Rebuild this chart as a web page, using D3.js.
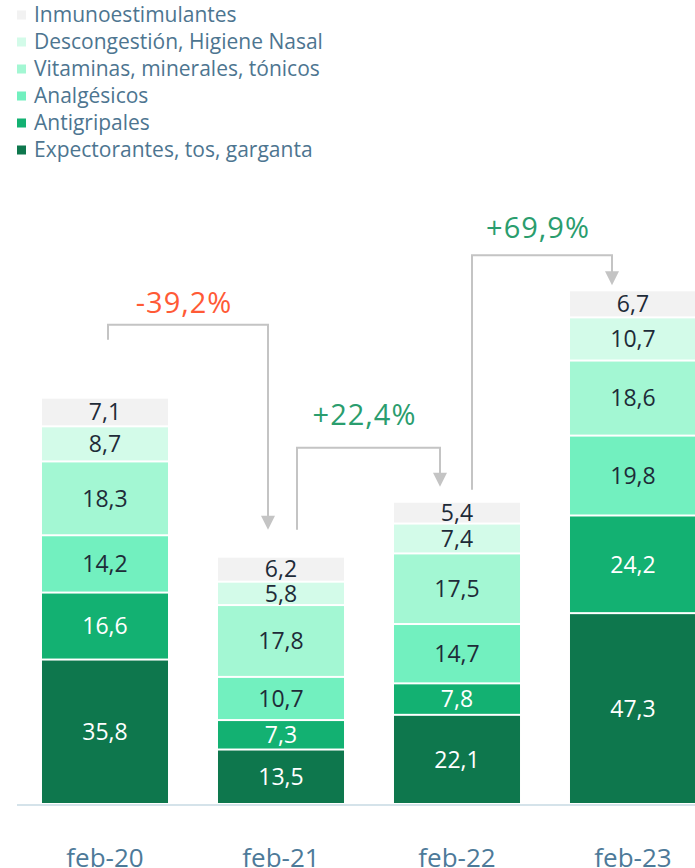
<!DOCTYPE html>
<html>
<head>
<meta charset="utf-8">
<script src="https://cdn.jsdelivr.net/npm/d3@7"></script>
<style>
  body { margin: 0; background: #fff; font-family: "Open Sans", sans-serif; }
</style>
</head>
<body>
<div id="chart"></div>
<script>
const periods = ['feb-20', 'feb-21', 'feb-22', 'feb-23'];
// stack order: bottom first
const categories = ['Expectorantes, tos, garganta', 'Antigripales', 'Analgésicos',
  'Vitaminas, minerales, tónicos', 'Descongestión, Higiene Nasal', 'Inmunoestimulantes'];
const colors = ['#0e774d', '#13b172', '#72f0bf', '#a3f7d3', '#d3fbe9', '#f2f2f2'];
const textColors = ['#ffffff', '#ffffff', '#1e2b38', '#1e2b38', '#1e2b38', '#1e2b38'];

const expectorantes = [35.8, 13.5, 22.1, 47.3];
const antigripales = [16.6, 7.3, 7.8, 24.2];
const analgesicos = [14.2, 10.7, 14.7, 19.8];
const vitaminas = [18.3, 17.8, 17.5, 18.6];
const descongestion = [8.7, 5.8, 7.4, 10.7];
const inmuno = [7.1, 6.2, 5.4, 6.7];

const changes = ['-39,2%', '+22,4%', '+69,9%'];
const changeColors = ['#ff5a36', '#2a9d6e', '#2a9d6e'];

const series = [expectorantes, antigripales, analgesicos, vitaminas, descongestion, inmuno];
const rows = periods.map((p, i) => {
  const r = { period: p };
  categories.forEach((c, k) => { r[c] = series[k][i]; });
  return r;
});

const width = 695;
const height = 868;
const baseY = 804;

const svg = d3.select('#chart').append('svg')
  .attr('width', width)
  .attr('height', height);

const x = d3.scaleBand()
  .domain(periods)
  .range([17, 721])
  .paddingInner(0.284)
  .paddingOuter(0.142);

const y = d3.scaleLinear()
  .domain([0, 130])
  .range([baseY, baseY - 130 * 4.035]);

const stacked = d3.stack().keys(categories)(rows);

// legend
const legend = svg.append('g');
categories.slice().reverse().forEach((c, i) => {
  const k = categories.length - 1 - i;
  const g = legend.append('g').attr('transform', `translate(17,${15 + i * 27})`);
  g.append('rect')
    .attr('x', 0).attr('y', -4.5)
    .attr('width', 9).attr('height', 9)
    .attr('fill', colors[k]);
  g.append('text')
    .attr('x', 17)
    .attr('dy', '0.35em')
    .attr('font-size', 21)
    .attr('fill', '#4d7590')
    .text(c);
});

// bars
const layers = svg.append('g').selectAll('g')
  .data(stacked)
  .join('g')
  .attr('fill', (d, i) => colors[i]);

layers.selectAll('rect')
  .data((d) => d)
  .join('rect')
  .attr('x', (d) => x(d.data.period))
  .attr('width', x.bandwidth())
  .attr('y', (d) => y(d[1]) + 1)
  .attr('height', (d) => Math.max(0, y(d[0]) - y(d[1]) - 2));

layers.each(function (layer, k) {
  d3.select(this).selectAll('text')
    .data(layer)
    .join('text')
    .attr('x', (d) => x(d.data.period) + x.bandwidth() / 2)
    .attr('y', (d) => (y(d[0]) + y(d[1])) / 2)
    .attr('dy', '0.36em')
    .attr('text-anchor', 'middle')
    .attr('font-size', 23)
    .attr('fill', textColors[k])
    .text((d) => d3.format('.1f')(d[1] - d[0]).replace('.', ','));
});

// axis
svg.append('line')
  .attr('x1', 17).attr('x2', width)
  .attr('y1', baseY + 1).attr('y2', baseY + 1)
  .attr('stroke', '#d5e3ea')
  .attr('stroke-width', 2);

svg.append('g').selectAll('text')
  .data(periods)
  .join('text')
  .attr('x', (d) => x(d) + x.bandwidth() / 2)
  .attr('y', 867)
  .attr('text-anchor', 'middle')
  .attr('font-size', 26)
  .attr('fill', '#4d7a99')
  .text((d) => d);

// change connectors
const totals = rows.map((r) => d3.sum(categories, (c) => r[c]));
const links = [
  { from: 0, to: 1, dx0: 3, dx1: -13, start: 58, top: 73, tip: 27, label: 22 },
  { from: 1, to: 2, dx0: 16, dx1: -17, start: 27, top: 54, tip: 15, label: 33 },
  { from: 2, to: 3, dx0: 15, dx1: -21, start: 12, top: 35, tip: 5, label: 28 },
];

const conn = svg.append('g');
links.forEach((l, i) => {
  const xa = x(periods[l.from]) + x.bandwidth() / 2 + l.dx0;
  const xb = x(periods[l.to]) + x.bandwidth() / 2 + l.dx1;
  const ya = y(totals[l.from]) - l.start;
  const yb = y(totals[l.to]) - l.tip;
  const yt = Math.min(y(totals[l.from]), y(totals[l.to])) - l.top;
  conn.append('path')
    .attr('d', `M${xa},${ya}V${yt}H${xb}V${yb - 12}`)
    .attr('fill', 'none')
    .attr('stroke', '#c4c4c4')
    .attr('stroke-width', 2);
  conn.append('path')
    .attr('d', `M${xb - 7},${yb - 14}L${xb + 7},${yb - 14}L${xb},${yb}Z`)
    .attr('fill', '#c4c4c4');
  conn.append('text')
    .attr('x', (xa + xb) / 2 - 4)
    .attr('y', yt - l.label)
    .attr('dy', '0.36em')
    .attr('text-anchor', 'middle')
    .attr('font-size', 29)
    .attr('letter-spacing', 1)
    .attr('fill', changeColors[i])
    .text(changes[i]);
});
</script>
</body>
</html>
